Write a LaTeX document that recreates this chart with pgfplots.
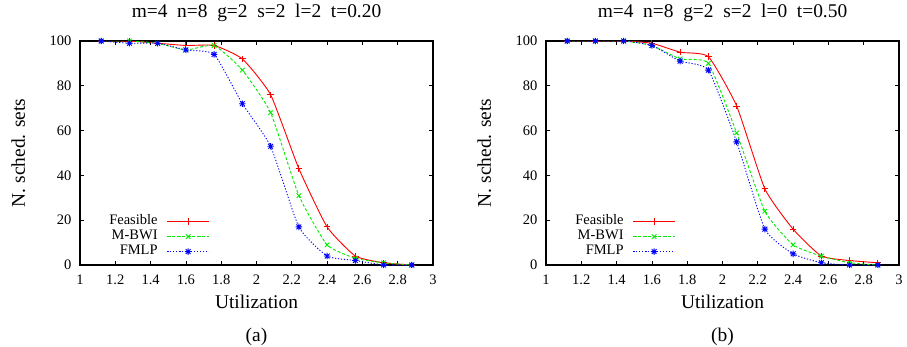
\documentclass[border=0pt]{standalone}
\usepackage{fontspec}
\setmainfont{Liberation Serif}
\usepackage{pgfplots}
\usepackage{pgfplotstable}
\pgfplotsset{compat=1.18}

\pgfdeclareplotmark{star8}{%
  \pgfpathmoveto{\pgfqpoint{-\pgfplotmarksize}{0pt}}%
  \pgfpathlineto{\pgfqpoint{\pgfplotmarksize}{0pt}}%
  \pgfpathmoveto{\pgfqpoint{0pt}{-\pgfplotmarksize}}%
  \pgfpathlineto{\pgfqpoint{0pt}{\pgfplotmarksize}}%
  \pgfpathmoveto{\pgfqpoint{-0.75\pgfplotmarksize}{-0.75\pgfplotmarksize}}%
  \pgfpathlineto{\pgfqpoint{0.75\pgfplotmarksize}{0.75\pgfplotmarksize}}%
  \pgfpathmoveto{\pgfqpoint{-0.75\pgfplotmarksize}{0.75\pgfplotmarksize}}%
  \pgfpathlineto{\pgfqpoint{0.75\pgfplotmarksize}{-0.75\pgfplotmarksize}}%
  \pgfusepathqstroke}

\pgfplotstableread{
x     f    m    p
1.12  100  100  100
1.28  100  100  99
1.44  99   99   99
1.60  98   96   96
1.76  98   98   94
1.92  92   87   72
2.08  76   68   53
2.24  43   31   17
2.40  17   9    4
2.56  4    3    2
2.72  1    1    0
2.88  0    0    0
}\tabA

\pgfplotstableread{
x     f    m    p
1.12  100  100  100
1.28  100  100  100
1.44  100  100  100
1.60  99   98   98
1.76  95   92   91
1.92  93   90   87
2.08  71   59   55
2.24  34   24   16
2.40  16   9    5
2.56  4    4    1
2.72  2    1    0
2.88  1    0    0
}\tabB

\definecolor{gpred}{rgb}{1,0,0}
\definecolor{gpgreen}{rgb}{0,0.92,0}
\definecolor{gpblue}{rgb}{0,0,1}

\newcommand{\bigf}{\fontsize{19.4}{21}\selectfont}
\newcommand{\tickf}{\fontsize{14.5}{16}\selectfont}

\pgfplotsset{
  myaxis/.style={
    scale only axis, width=353pt, height=224pt,
    xmin=1, xmax=3, ymin=0, ymax=100,
    xtick={1,1.2,1.4,1.6,1.8,2,2.2,2.4,2.6,2.8,3},
    ytick={0,20,40,60,80,100},
    tick align=inside, major tick length=4pt,
    axis line style={line width=1.1pt},
    tick style={line width=0.7pt, black},
    /pgf/number format/assume math mode=true,
    tick label style={font=\tickf},
    xticklabel style={yshift=-6pt},
    yticklabel style={xshift=-5pt},
    label style={font=\bigf},
    xlabel={Utilization},
    ylabel={N. sched. sets},
    xlabel style={at={(axis description cs:0.5,-0.196)}, anchor=base},
    ylabel style={at={(axis description cs:-0.156,0.5)}, anchor=base},
    title style={at={(axis description cs:0.5,1.076)}, anchor=base},
    legend plot pos=right,
    legend cell align=right,
    legend style={draw=none, fill=none, at={(axis description cs:0.376,0.02)}, anchor=south east,
      font=\fontsize{14.5}{16}\selectfont, row sep=1.5pt, column sep=9pt,
      nodes={inner sep=0pt, text height=10pt, text depth=3.5pt}},
    legend image code/.code={%
      \draw[mark repeat=2, mark phase=2, #1] plot coordinates {(0pt,0pt) (21pt,0pt) (42pt,0pt)};},
    every axis plot/.append style={line width=0.9pt, smooth, tension=0.3},
  },
  feas/.style={color=gpred, solid, mark=+, mark size=3.2pt, mark options={solid}},
  mbwi/.style={color=gpgreen, dash pattern=on 3pt off 2pt, mark=x, mark size=3.2pt, mark options={solid}},
  fmlp/.style={color=gpblue, dash pattern=on 1.2pt off 1.8pt, mark=star8, mark size=3.2pt, mark options={solid}},
}

\begin{document}
\begin{tikzpicture}
\path[use as bounding box] (0,0) rectangle (907pt,346pt);
\begin{axis}[myaxis, at={(80pt,81pt)}, anchor=south west,
  title={\bigf m=4\ \ n=8\ \ g=2\ \ s=2\ \ l=2\ \ t=0.20}]
\addplot[feas] table[x=x,y=f] {\tabA};
\addlegendentry{Feasible}
\addplot[mbwi] table[x=x,y=m] {\tabA};
\addlegendentry{M-BWI}
\addplot[fmlp] table[x=x,y=p] {\tabA};
\addlegendentry{FMLP}
\end{axis}
\begin{axis}[myaxis, at={(546pt,81pt)}, anchor=south west,
  title={\bigf m=4\ \ n=8\ \ g=2\ \ s=2\ \ l=0\ \ t=0.50}]
\addplot[feas] table[x=x,y=f] {\tabB};
\addlegendentry{Feasible}
\addplot[mbwi] table[x=x,y=m] {\tabB};
\addlegendentry{M-BWI}
\addplot[fmlp] table[x=x,y=p] {\tabB};
\addlegendentry{FMLP}
\end{axis}
\node[anchor=base, font=\bigf] at (256.5pt,5pt) {(a)};
\node[anchor=base, font=\bigf] at (722.5pt,5pt) {(b)};
\end{tikzpicture}
\end{document}
